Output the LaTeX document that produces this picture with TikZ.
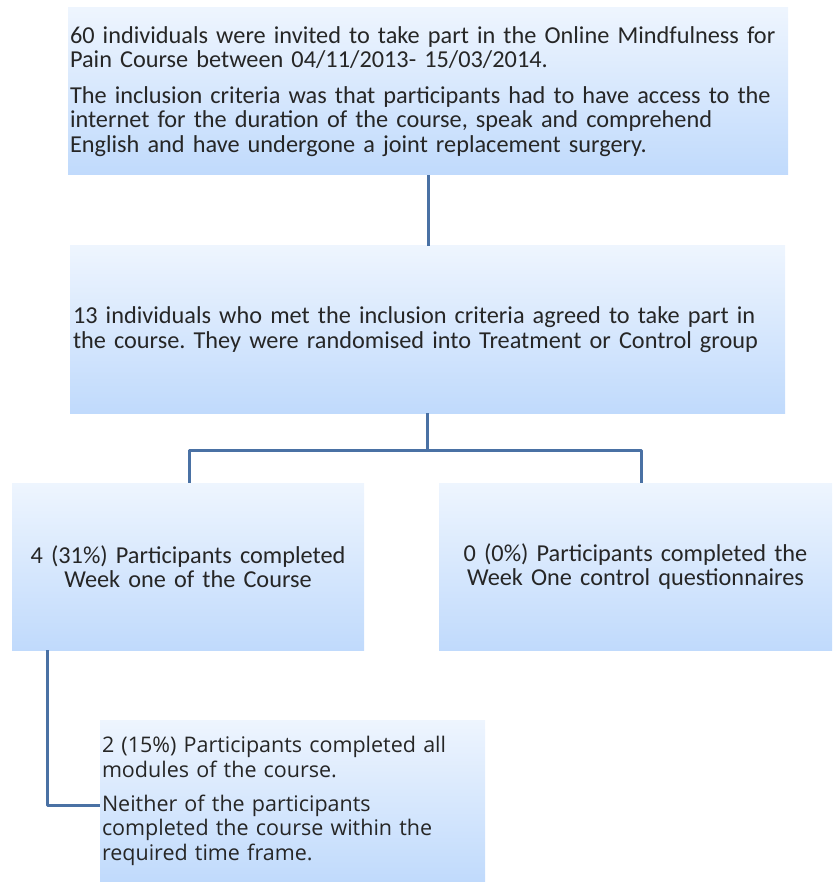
\documentclass[tikz,border=0pt]{standalone}
\usepackage{fontspec}
\setmainfont{Carlito}
\newfontfamily\osans{Open Sans}
\frenchspacing
\definecolor{boxtop}{HTML}{EEF5FE}
\definecolor{boxbot}{HTML}{C0DAFC}
\definecolor{conncol}{HTML}{4A71A4}
\tikzset{
  box/.style={rectangle, top color=boxtop, bottom color=boxbot, draw=none, inner sep=2pt,
    font=\fontsize{24.3}{24.6}\selectfont, text=black!85},
  conn/.style={draw=conncol, line width=3pt, line join=round}
}
\begin{document}
\begin{tikzpicture}[x=1pt,y=-1pt]
\useasboundingbox (0,0) rectangle (832,882);
\node[box, minimum width=720pt, minimum height=167pt, text width=716pt, align=left] (b1) at (428,91.5)
 {60 individuals were invited to take part in the Online Mindfulness for\\ Pain Course between 04/11/2013- 15/03/2014.\\[11pt]
  The inclusion criteria was that participants had to have access to the\\ internet for the duration of the course, speak and comprehend\\ English and have undergone a joint replacement surgery.};
\node[box, minimum width=715pt, minimum height=167pt, text width=709pt, inner xsep=3pt, align=left] (b2) at (427.5,329.5)
 {13 individuals who met the inclusion criteria agreed to take part in\\ the course. They were randomised into Treatment or Control group};
\node[box, minimum width=352pt, minimum height=167pt, text width=348pt, align=center] (b3) at (188,566.5)
 {4 (31\%) Participants completed\\ Week one of the Course};
\node[box, minimum width=393pt, minimum height=167pt, text width=389pt, align=center] (b4) at (635.5,566.5)
 {0 (0\%) Participants completed the\\ Week One control questionnaires};
\node[box, minimum width=385pt, minimum height=162pt, text width=381pt, align=left, font=\osans\fontsize{21.5}{24.3}\selectfont] (b5) at (292.5,801)
 {2 (15\%) Participants completed all\\ modules of the course.\\[10pt]
  Neither of the participants\\ completed the course within the\\ required time frame.};
\coordinate (j3) at (189,450);
\coordinate (j4) at (641,450);
\coordinate (k) at (47,805);
\draw[conn] (b1.south) -- (b1.south |- b2.north);
\draw[conn] (b2.south) -- (b2.south |- j3);
\draw[conn] (j3 |- b3.north) -- (j3) -- (j4) -- (j4 |- b4.north);
\draw[conn] (k |- b3.south) -- (k) -- (k -| b5.west);
\end{tikzpicture}
\end{document}
